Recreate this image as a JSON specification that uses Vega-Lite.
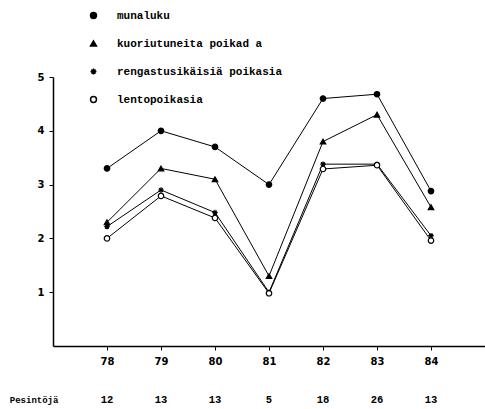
{
  "$schema": "https://vega.github.io/schema/vega-lite/v6.json",
  "autosize": "none",
  "width": 432,
  "height": 269,
  "padding": {"left": 53, "top": 77, "right": 0, "bottom": 63},
  "background": "white",
  "config": {"view": {"stroke": null}},
  "datasets": {
    "series": [
      {"year": 78, "series": "munaluku", "value": 3.3},
      {"year": 79, "series": "munaluku", "value": 4.0},
      {"year": 80, "series": "munaluku", "value": 3.7},
      {"year": 81, "series": "munaluku", "value": 3.0},
      {"year": 82, "series": "munaluku", "value": 4.6},
      {"year": 83, "series": "munaluku", "value": 4.68},
      {"year": 84, "series": "munaluku", "value": 2.88},
      {"year": 78, "series": "kuoriutuneita poikad a", "value": 2.3},
      {"year": 79, "series": "kuoriutuneita poikad a", "value": 3.3},
      {"year": 80, "series": "kuoriutuneita poikad a", "value": 3.1},
      {"year": 81, "series": "kuoriutuneita poikad a", "value": 1.3},
      {"year": 82, "series": "kuoriutuneita poikad a", "value": 3.8},
      {"year": 83, "series": "kuoriutuneita poikad a", "value": 4.3},
      {"year": 84, "series": "kuoriutuneita poikad a", "value": 2.58},
      {"year": 78, "series": "rengastusikäisiä poikasia", "value": 2.22},
      {"year": 79, "series": "rengastusikäisiä poikasia", "value": 2.9},
      {"year": 80, "series": "rengastusikäisiä poikasia", "value": 2.48},
      {"year": 81, "series": "rengastusikäisiä poikasia", "value": 1.0},
      {"year": 82, "series": "rengastusikäisiä poikasia", "value": 3.38},
      {"year": 83, "series": "rengastusikäisiä poikasia", "value": 3.38},
      {"year": 84, "series": "rengastusikäisiä poikasia", "value": 2.05},
      {"year": 78, "series": "lentopoikasia", "value": 2.0},
      {"year": 79, "series": "lentopoikasia", "value": 2.79},
      {"year": 80, "series": "lentopoikasia", "value": 2.38},
      {"year": 81, "series": "lentopoikasia", "value": 0.98},
      {"year": 82, "series": "lentopoikasia", "value": 3.29},
      {"year": 83, "series": "lentopoikasia", "value": 3.36},
      {"year": 84, "series": "lentopoikasia", "value": 1.96}
    ],
    "nests": [
      {"year": 78, "nests": 12},
      {"year": 79, "nests": 13},
      {"year": 80, "nests": 13},
      {"year": 81, "nests": 5},
      {"year": 82, "nests": 18},
      {"year": 83, "nests": 26},
      {"year": 84, "nests": 13}
    ]
  },
  "layer": [
    {
      "data": {"name": "series"},
      "mark": {"type": "line", "color": "black", "strokeWidth": 1},
      "encoding": {
        "x": {
          "field": "year", "type": "quantitative",
          "scale": {"domain": [77, 85], "nice": false, "zero": false},
          "axis": {
            "title": null, "values": [78, 79, 80, 81, 82, 83, 84], "grid": false,
            "domainColor": "black", "domainWidth": 1.5, "tickColor": "black", "tickSize": 4,
            "labelFont": "DejaVu Sans", "labelFontWeight": "bold", "labelFontSize": 10,
            "labelColor": "black", "labelPadding": 6
          }
        },
        "y": {
          "field": "value", "type": "quantitative",
          "scale": {"domain": [0, 5], "nice": false},
          "axis": {
            "title": null, "values": [1, 2, 3, 4, 5], "grid": false,
            "domainColor": "black", "domainWidth": 1.5, "tickColor": "black", "tickSize": 4,
            "labelFont": "DejaVu Sans", "labelFontWeight": "bold", "labelFontSize": 10,
            "labelColor": "black", "labelPadding": 5
          }
        },
        "detail": {"field": "series"}
      }
    },
    {
      "data": {"name": "series"},
      "mark": {"type": "point", "stroke": "black", "strokeWidth": 1.2, "opacity": 1},
      "encoding": {
        "x": {"field": "year", "type": "quantitative"},
        "y": {"field": "value", "type": "quantitative"},
        "shape": {
          "field": "series", "type": "nominal",
          "scale": {
            "domain": ["munaluku", "kuoriutuneita poikad a", "rengastusikäisiä poikasia", "lentopoikasia"],
            "range": ["circle", "triangle-up", "M-1,0L1,0M0,-1L0,1M-0.7,-0.7L0.7,0.7M-0.7,0.7L0.7,-0.7", "circle"]
          },
          "legend": {
            "title": null, "orient": "none", "legendX": 35, "legendY": -67,
            "padding": 0, "rowPadding": 15, "labelOffset": 18, "labelLimit": 400,
            "labelFont": "Liberation Mono", "labelFontSize": 11, "labelFontWeight": "bold",
            "labelColor": "black", "symbolSize": 35,
            "encode": {"symbols": {"update": {"stroke": {"value": "black"}, "strokeWidth": {"value": 1.2}, "opacity": {"value": 1}}}}
          }
        },
        "fill": {
          "field": "series", "type": "nominal",
          "scale": {
            "domain": ["munaluku", "kuoriutuneita poikad a", "rengastusikäisiä poikasia", "lentopoikasia"],
            "range": ["black", "black", "black", "white"]
          },
          "legend": {
            "title": null, "orient": "none", "legendX": 35, "legendY": -67,
            "padding": 0, "rowPadding": 15, "labelOffset": 18, "labelLimit": 400,
            "labelFont": "Liberation Mono", "labelFontSize": 11, "labelFontWeight": "bold",
            "labelColor": "black", "symbolSize": 35,
            "encode": {"symbols": {"update": {"stroke": {"value": "black"}, "strokeWidth": {"value": 1.2}, "opacity": {"value": 1}}}}
          }
        },
        "size": {"value": 30}
      }
    },
    {
      "data": {"name": "nests"},
      "mark": {"type": "text", "font": "Liberation Mono", "fontSize": 10.5, "fontWeight": "bold", "color": "black"},
      "encoding": {
        "x": {"field": "year", "type": "quantitative"},
        "y": {"datum": -1.0},
        "text": {"field": "nests", "type": "quantitative"}
      }
    },
    {
      "data": {"values": [{}]},
      "mark": {"type": "text", "font": "Liberation Mono", "fontSize": 9, "fontWeight": "bold", "color": "black", "align": "left"},
      "encoding": {
        "x": {"datum": 76.2},
        "y": {"datum": -1.0},
        "text": {"value": "Pesintöjä"}
      }
    }
  ]
}
